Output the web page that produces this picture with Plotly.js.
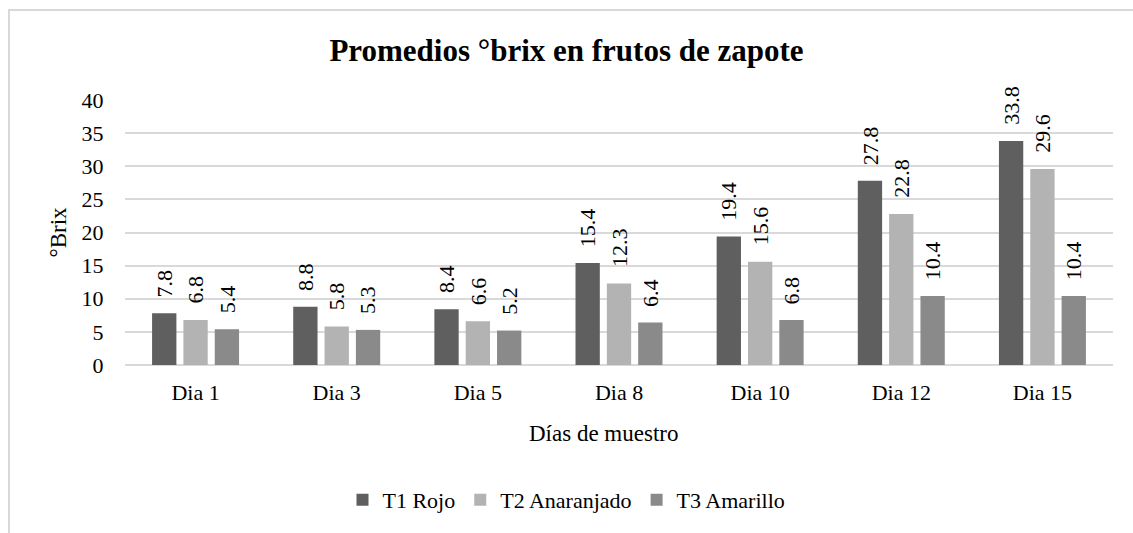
<!DOCTYPE html>
<html>
<head>
<meta charset="utf-8">
<script src="https://cdn.plot.ly/plotly-3.0.1.min.js"></script>
<style>
  html, body { margin: 0; padding: 0; background: #ffffff; overflow: hidden; }
  #frame { position: absolute; left: 8px; top: 9px; width: 1300px; height: 700px; border: 2px solid #d9d9d9; box-sizing: border-box; }
  #chart { position: absolute; left: 0; top: 0; width: 1133px; height: 533px; }
  #chart text { font-family: 'Liberation Serif', 'Times New Roman', serif !important; }
</style>
</head>
<body>
<div id="frame"></div>
<div id="chart"></div>
<script>
const categories = ["Dia 1", "Dia 3", "Dia 5", "Dia 8", "Dia 10", "Dia 12", "Dia 15"];
const seriesNames = ["T1 Rojo", "T2 Anaranjado", "T3 Amarillo"];
const t1Rojo = [7.8, 8.8, 8.4, 15.4, 19.4, 27.8, 33.8];
const t2Anaranjado = [6.8, 5.8, 6.6, 12.3, 15.6, 22.8, 29.6];
const t3Amarillo = [5.4, 5.3, 5.2, 6.4, 6.8, 10.4, 10.4];
const yTicks = [0, 5, 10, 15, 20, 25, 30, 35, 40];

const colors = ["#5f5f5f", "#b3b3b3", "#8a8a8a"];
const FONT = "Liberation Serif";
const allSeries = [t1Rojo, t2Anaranjado, t3Amarillo];

const W = 1133, H = 533;
const margin = { l: 125, r: 20, t: 100, b: 166, pad: 0 };
const bargap = 0.334, bargroupgap = 0.224;
const plotW = W - margin.l - margin.r;
const plotH = H - margin.t - margin.b;
// helpers converting page pixels to paper fractions (layout placement only)
const pxToPaperX = px => (px - margin.l) / plotW;
const pxToPaperY = py => (H - margin.b - py) / plotH;

const traces = allSeries.map((vals, i) => ({
  type: "bar",
  name: seriesNames[i],
  x: categories,
  y: vals,
  marker: { color: colors[i], line: { width: 0 } },
  hoverinfo: "x+y+name"
}));

const catPx = plotW / categories.length;
const slotPx = catPx * (1 - bargap) / allSeries.length;
const annotations = [];
allSeries.forEach((vals, i) => {
  vals.forEach((v, j) => {
    annotations.push({
      x: categories[j], y: v, xref: "x", yref: "y",
      text: v.toFixed(1),
      showarrow: false,
      textangle: -90,
      xanchor: "center", yanchor: "bottom",
      xshift: (i - (allSeries.length - 1) / 2) * slotPx,
      yshift: 14,
      font: { family: FONT, size: 22, color: "#000000" }
    });
  });
});
// x-axis title (placed like the original, slightly left of the plot centre)
annotations.push({
  xref: "paper", yref: "paper",
  x: pxToPaperX(603), y: pxToPaperY(436),
  xanchor: "center", yanchor: "middle",
  showarrow: false,
  text: "Días de muestro",
  font: { family: FONT, size: 23, color: "#000000" }
});

const layout = {
  width: W,
  height: H,
  paper_bgcolor: "rgba(0,0,0,0)",
  plot_bgcolor: "rgba(0,0,0,0)",
  margin: margin,
  font: { family: FONT, color: "#000000", size: 22 },
  title: {
    text: "<b>Promedios °brix en frutos de zapote</b>",
    font: { family: FONT, size: 31, color: "#000000" },
    x: 0.5, xanchor: "center",
    y: 50, yref: "container", yanchor: "middle"
  },
  barmode: "group",
  bargap: bargap,
  bargroupgap: bargroupgap,
  annotations: annotations,
  xaxis: {
    type: "category",
    tickfont: { family: FONT, size: 22, color: "#000000" },
    showgrid: false,
    showline: false,
    ticks: "outside",
    ticklen: 8,
    tickcolor: "rgba(0,0,0,0)"
  },
  yaxis: {
    range: [0, 40],
    tickvals: yTicks,
    ticktext: yTicks.map(String),
    tickfont: { family: FONT, size: 22, color: "#000000" },
    showgrid: true,
    gridcolor: "#d9d9d9",
    gridwidth: 2,
    zeroline: true,
    zerolinecolor: "#d9d9d9",
    zerolinewidth: 2,
    showline: false,
    ticks: "outside",
    ticklen: 16,
    tickcolor: "rgba(0,0,0,0)",
    title: { text: "°Brix", font: { family: FONT, size: 23, color: "#000000" }, standoff: 8 }
  },
  legend: {
    orientation: "h",
    x: pxToPaperX(W / 2), xanchor: "center",
    y: pxToPaperY(503), yanchor: "middle",
    font: { family: FONT, size: 22, color: "#000000" },
    itemwidth: 30,
    traceorder: "normal"
  },
  showlegend: true
};

Plotly.newPlot("chart", traces, layout, { displayModeBar: false });
</script>
</body>
</html>
